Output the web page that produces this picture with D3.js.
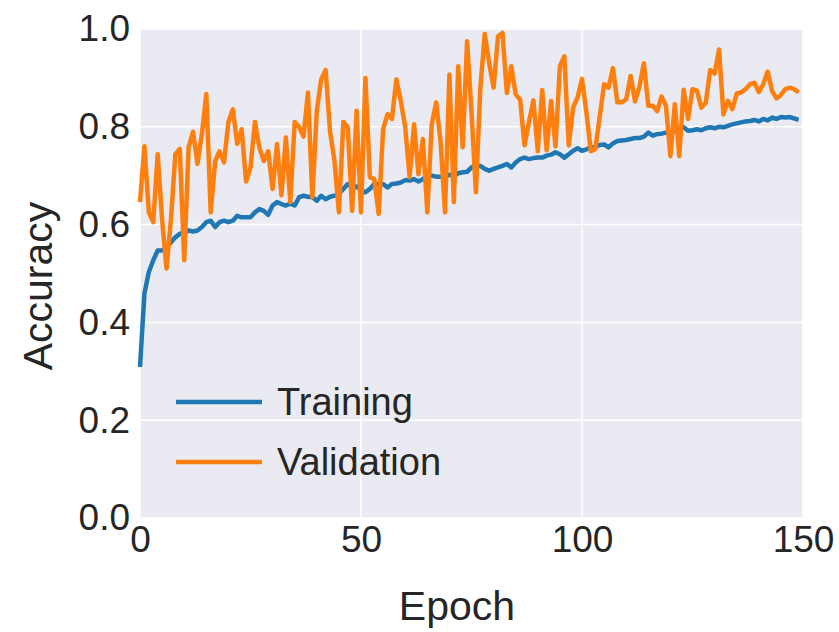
<!DOCTYPE html>
<html>
<head>
<meta charset="utf-8">
<script src="https://cdn.jsdelivr.net/npm/d3@7"></script>
<style>
  body { margin: 0; background: #fff; }
  text { font-family: "Liberation Sans", Arial, sans-serif; fill: #262626; }
</style>
</head>
<body>
<div id="chart"></div>
<script>
/* global d3 */
// accuracy per epoch
var training = [
  0.309, 0.459, 0.503, 0.527, 0.547, 0.547, 0.554, 0.564, 0.574, 0.581,
  0.584, 0.588, 0.586, 0.588, 0.595, 0.605, 0.608, 0.595, 0.605, 0.608,
  0.605, 0.608, 0.618, 0.615, 0.615, 0.615, 0.625, 0.632, 0.628, 0.620,
  0.639, 0.646, 0.642, 0.639, 0.643, 0.639, 0.656, 0.659, 0.657, 0.656,
  0.649, 0.659, 0.652, 0.657, 0.659, 0.663, 0.673, 0.683, 0.676, 0.678,
  0.670, 0.666, 0.673, 0.683, 0.683, 0.683, 0.676, 0.683, 0.684, 0.686,
  0.691, 0.690, 0.693, 0.688, 0.693, 0.700, 0.700, 0.698, 0.698, 0.698,
  0.702, 0.700, 0.705, 0.707, 0.708, 0.717, 0.720, 0.720, 0.714, 0.710,
  0.714, 0.717, 0.720, 0.724, 0.717, 0.727, 0.734, 0.737, 0.734, 0.736,
  0.737, 0.737, 0.741, 0.743, 0.748, 0.744, 0.737, 0.744, 0.751, 0.756,
  0.751, 0.754, 0.758, 0.758, 0.763, 0.764, 0.758, 0.766, 0.771, 0.772,
  0.773, 0.775, 0.777, 0.777, 0.780, 0.788, 0.782, 0.785, 0.786, 0.788,
  0.786, 0.792, 0.795, 0.799, 0.792, 0.793, 0.795, 0.793, 0.797, 0.799,
  0.797, 0.800, 0.799, 0.802, 0.805, 0.807, 0.809, 0.811, 0.812, 0.814,
  0.811, 0.816, 0.813, 0.819, 0.816, 0.820, 0.819, 0.820, 0.817, 0.814
];
var validation = [
  0.646, 0.760, 0.625, 0.605, 0.744, 0.610, 0.510, 0.610, 0.744, 0.755,
  0.527, 0.758, 0.790, 0.724, 0.785, 0.867, 0.625, 0.730, 0.750, 0.727,
  0.810, 0.836, 0.765, 0.795, 0.688, 0.717, 0.810, 0.758, 0.730, 0.750,
  0.673, 0.765, 0.660, 0.778, 0.646, 0.810, 0.800, 0.780, 0.870, 0.656,
  0.833, 0.897, 0.916, 0.790, 0.730, 0.625, 0.810, 0.800, 0.628, 0.833,
  0.625, 0.900, 0.697, 0.693, 0.622, 0.795, 0.826, 0.816, 0.897, 0.853,
  0.800, 0.697, 0.805, 0.703, 0.775, 0.625, 0.805, 0.850, 0.770, 0.625,
  0.907, 0.646, 0.924, 0.758, 0.975, 0.830, 0.666, 0.880, 0.990, 0.930,
  0.880, 0.985, 0.992, 0.869, 0.924, 0.866, 0.856, 0.762, 0.810, 0.854,
  0.750, 0.875, 0.752, 0.853, 0.760, 0.924, 0.944, 0.762, 0.840, 0.860,
  0.898, 0.830, 0.750, 0.754, 0.820, 0.887, 0.880, 0.920, 0.850, 0.850,
  0.856, 0.904, 0.852, 0.882, 0.930, 0.843, 0.843, 0.832, 0.862, 0.843,
  0.740, 0.846, 0.740, 0.876, 0.816, 0.877, 0.874, 0.839, 0.849, 0.916,
  0.909, 0.958, 0.825, 0.853, 0.836, 0.868, 0.870, 0.877, 0.887, 0.890,
  0.871, 0.887, 0.913, 0.873, 0.858, 0.865, 0.877, 0.880, 0.877, 0.870
];
var xTicks = [0, 50, 100, 150];
var yTicks = [0.0, 0.2, 0.4, 0.6, 0.8, 1.0];
var seriesNames = ["Training", "Validation"];
var seriesColors = ["#1f77b4", "#ff7f0e"];

var width = 839, height = 632;
var margin = {left: 140, right: 36, top: 29, bottom: 114};

var svg = d3.select("#chart").append("svg")
    .attr("width", width)
    .attr("height", height);

var x = d3.scaleLinear().domain([0, 150]).range([margin.left, width - margin.right]);
var y = d3.scaleLinear().domain([0, 1]).range([height - margin.bottom, margin.top]);

// plot background
svg.append("rect")
    .attr("x", x(0))
    .attr("y", y(1))
    .attr("width", x(150) - x(0))
    .attr("height", y(0) - y(1))
    .attr("fill", "#eaeaf2");

// grid
svg.append("g")
    .selectAll("line.gy")
    .data(yTicks)
    .enter().append("line")
    .attr("x1", x(0)).attr("x2", x(150))
    .attr("y1", d => y(d)).attr("y2", d => y(d))
    .attr("stroke", "#fff").attr("stroke-width", 1.5);

svg.append("g")
    .selectAll("line.gx")
    .data(xTicks)
    .enter().append("line")
    .attr("x1", d => x(d)).attr("x2", d => x(d))
    .attr("y1", y(0)).attr("y2", y(1))
    .attr("stroke", "#fff").attr("stroke-width", 1.5);

// axes (labels only, seaborn style)
var xAxis = svg.append("g")
    .attr("transform", "translate(0," + y(0) + ")")
    .call(d3.axisBottom(x).tickValues(xTicks).tickSize(0).tickPadding(8).tickFormat(d3.format("d")));
var yAxis = svg.append("g")
    .attr("transform", "translate(" + x(0) + ",0)")
    .call(d3.axisLeft(y).tickValues(yTicks).tickSize(0).tickPadding(10).tickFormat(d3.format(".1f")));
[xAxis, yAxis].forEach(function (a) {
    a.select(".domain").remove();
    a.selectAll("text")
        .attr("fill", "#262626")
        .style("font-size", "37px")
        .style("font-family", "'Liberation Sans', Arial, sans-serif");
});

// lines
var line = d3.line()
    .x((d, i) => x(i))
    .y(d => y(d));

[training, validation].forEach(function (s, k) {
    svg.append("path")
        .datum(s)
        .attr("fill", "none")
        .attr("stroke", seriesColors[k])
        .attr("stroke-width", 4.5)
        .attr("stroke-linejoin", "round")
        .attr("d", line);
});

// axis titles
svg.append("text")
    .attr("x", 457)
    .attr("y", 620)
    .attr("text-anchor", "middle")
    .style("font-size", "41px")
    .text("Epoch");

svg.append("text")
    .attr("transform", "translate(52,286) rotate(-90)")
    .attr("text-anchor", "middle")
    .style("font-size", "41px")
    .text("Accuracy");

// legend
var legend = svg.append("g");
seriesNames.forEach(function (name, k) {
    var ly = 402 + k * 60;
    legend.append("line")
        .attr("x1", 176).attr("x2", 262)
        .attr("y1", ly).attr("y2", ly)
        .attr("stroke", seriesColors[k])
        .attr("stroke-width", 4.5);
    legend.append("text")
        .attr("x", 277)
        .attr("y", ly)
        .attr("dy", "0.35em")
        .style("font-size", "38px")
        .text(name);
});
</script>
</body>
</html>
